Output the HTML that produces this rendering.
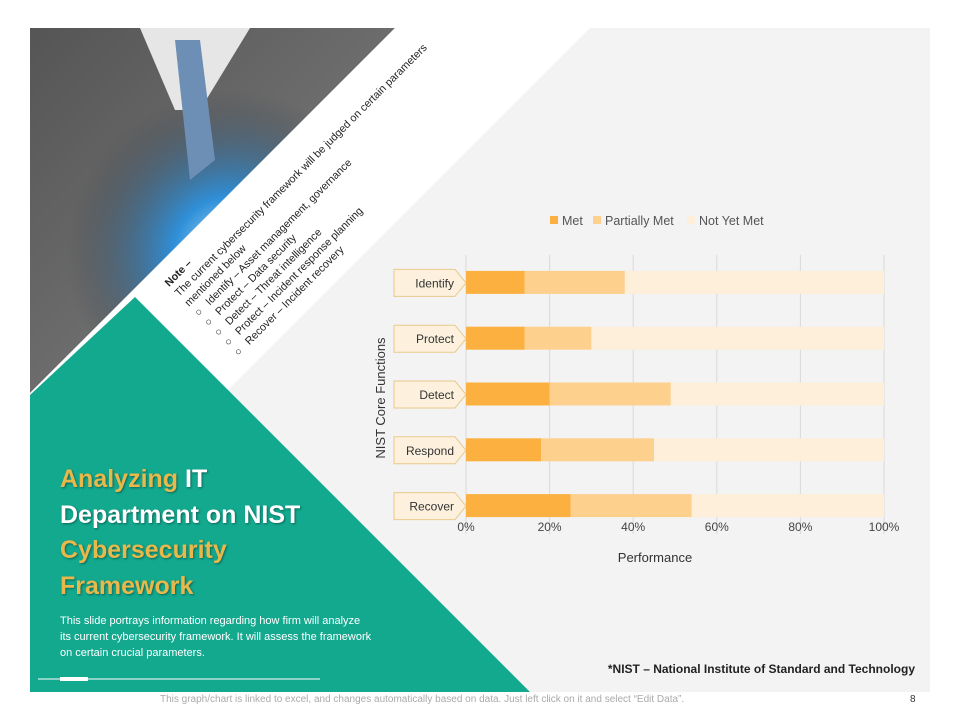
<!DOCTYPE html>
<html><head><meta charset="utf-8"><style>
body{margin:0;width:960px;height:720px;background:#fff;overflow:hidden;font-family:"Liberation Sans",sans-serif;position:relative}
.abs{position:absolute}
</style></head><body>
<div class="abs" style="left:30px;top:28px;width:900px;height:664px;background:#f3f3f3"></div>
<svg class="abs" style="left:0;top:0" width="960" height="720">
<defs>
<radialGradient id="glow" cx="0.55" cy="0.62" r="0.45"><stop offset="0" stop-color="#bfe8ff"/><stop offset="0.35" stop-color="#2f8fd8"/><stop offset="1" stop-color="#3a3d42" stop-opacity="0"/></radialGradient>
<linearGradient id="suit" x1="0" y1="0" x2="1" y2="1"><stop offset="0" stop-color="#555"/><stop offset="0.5" stop-color="#6c6c6c"/><stop offset="1" stop-color="#3c3c3c"/></linearGradient>
</defs>
<polygon points="30,28 395,28 30,393" fill="url(#suit)"/>
<polygon points="30,28 395,28 30,393" fill="url(#glow)"/>
<polygon points="140,28 250,28 200,110 175,110" fill="#e6e6e6"/>
<polygon points="175,40 200,40 215,160 190,180" fill="#6e8fb5"/>
<polygon points="395,28 590,28 225,393 30,393" fill="#ffffff"/>
<polygon points="135,297 530,692 30,692 30,395" fill="#13a98f"/>
<line x1="38" y1="679" x2="320" y2="679" stroke="#fff" stroke-width="1"/>
<rect x="60" y="677" width="28" height="4" fill="#fff"/>
</svg>
<div class="abs" style="left:162px;top:280px;transform-origin:0 0;transform:rotate(-45deg);font-size:10.8px;line-height:14px;color:#222;white-space:nowrap">
<b>Note –</b><br>The current cybersecurity framework will be judged on certain parameters<br>mentioned below<br>○&nbsp;&nbsp;&nbsp;Identify – Asset management, governance<br>○&nbsp;&nbsp;&nbsp;Protect – Data security<br>○&nbsp;&nbsp;&nbsp;Detect – Threat intelligence<br>○&nbsp;&nbsp;&nbsp;Protect – Incident response planning<br>○&nbsp;&nbsp;&nbsp;Recover – Incident recovery
</div>
<div class="abs" style="left:60px;top:462px;font-size:25px;font-weight:bold;line-height:35.5px;color:#fff;text-shadow:1px 1px 2px rgba(0,0,0,.4)">
<span style="color:#e9b84a">Analyzing</span> IT<br>Department on NIST<br><span style="color:#e9b84a">Cybersecurity<br>Framework</span>
</div>
<div class="abs" style="left:60px;top:613px;width:400px;font-size:11px;line-height:16px;color:#fff;white-space:nowrap">This slide portrays information regarding how firm will analyze<br>its current cybersecurity framework. It will assess the framework<br>on certain crucial parameters.</div>
<div class="abs" style="right:45px;top:662px;font-size:12px;font-weight:bold;color:#222">*NIST – National Institute of Standard and Technology</div>
<div class="abs" style="left:160px;top:694px;font-size:10px;color:#aaa">This graph/chart is linked to excel, and changes automatically based on data. Just left click on it and select “Edit Data”.</div>
<div class="abs" style="left:910px;top:694px;font-size:10px;color:#333">8</div>
<svg id="chart" class="abs" style="left:0;top:0" width="960" height="720"></svg>
<script>
const categories=["Identify","Protect","Detect","Respond","Recover"];
const met=[14,14,20,18,25];
const partiallyMet=[24,16,29,27,29];
const notYetMet=[62,70,51,55,46];
const tickLabels=["0%","20%","40%","60%","80%","100%"];
const seriesNames=["Met","Partially Met","Not Yet Met"];
const ns="http://www.w3.org/2000/svg";
const svg=document.getElementById('chart');
const x0=466,x1=884,yTop=255,yBot=534;
const xs=v=>x0+(x1-x0)*v/100;
const rowH=(yBot-yTop)/categories.length;
const yc=i=>yTop+rowH*(i+0.5);
function mk(t,a){const e=document.createElementNS(ns,t);for(const k in a)e.setAttribute(k,a[k]);svg.appendChild(e);return e;}
tickLabels.forEach((t,i)=>{const x=xs(i*20);
 const g=mk('line',{x1:x,x2:x,y1:yTop,y2:yBot,stroke:'#d9d9d9'});
 
 
 const l=mk('text',{x:x,y:531,'text-anchor':'middle','font-size':12,fill:'#444','font-family':'Liberation Sans'});l.textContent=t;
 
 
});
const colors=['#fbb040','#fdd18d','#fdefd9'];
categories.forEach((c,i)=>{
 const vals=[met[i],partiallyMet[i],notYetMet[i]];let acc=0;const y=yc(i)-12;
 vals.forEach((v,j)=>{const r=mk('rect',{x:xs(acc),y:y,width:xs(acc+v)-xs(acc),height:23,fill:colors[j]});
  
  acc+=v;});
 const ly=yc(i)-13.5;
 const p=mk('polygon',{points:`394,${ly} 455,${ly} 466,${ly+13.5} 455,${ly+27} 394,${ly+27}`,fill:'#fdf1de',stroke:'#e9c98c'});
 
 
 const t=mk('text',{x:454,y:ly+18,'text-anchor':'end','font-size':12,fill:'#333','font-family':'Liberation Sans'});t.textContent=c;
 
 
});
const lx=[550,593,687];
seriesNames.forEach((s,j)=>{const r=mk('rect',{x:lx[j],y:216,width:8,height:8,fill:colors[j]});
 
 
 const t=mk('text',{x:lx[j]+12,y:225,'font-size':12.5,fill:'#555','font-family':'Liberation Sans'});t.textContent=s;
 
 });
const xt=mk('text',{x:655,y:562,'text-anchor':'middle','font-size':13,fill:'#333','font-family':'Liberation Sans'});xt.textContent='Performance';


const yt=mk('text',{x:385,y:398,'text-anchor':'middle','font-size':13,fill:'#333','font-family':'Liberation Sans',transform:'rotate(-90 385 398)'});yt.textContent='NIST Core Functions';


</script>
</body></html>
